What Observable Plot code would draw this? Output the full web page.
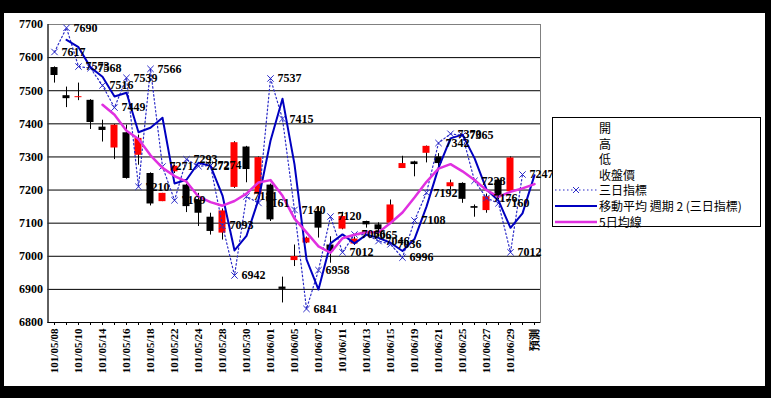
<!DOCTYPE html>
<html>
<head>
<meta charset="utf-8">
<script src="https://cdn.jsdelivr.net/npm/d3@7"></script>
<script src="https://cdn.jsdelivr.net/npm/@observablehq/plot@0.6"></script>
<style>
  html, body { margin: 0; padding: 0; background: #000; }
  #wrap { position: relative; width: 771px; height: 398px; overflow: hidden; background: #000; }
  #paper { position: absolute; left: 4px; top: 13px; width: 761px; height: 373px; background: #fff; }
  #chart { position: absolute; left: 0; top: 0; }
  #chart svg { overflow: visible; }
  g[aria-label="y-axis tick label"] text { font-weight: bold; font-size: 12px; }
  g[aria-label="x-axis tick label"] text { font-size: 11px; font-weight: bold; }
  #legend { position: absolute; left: 552px; top: 117px; width: 209px; height: 110px; border: 1px solid #000; background: #fff; box-sizing: border-box;
            font-family: "Noto Sans CJK TC", "Noto Sans", sans-serif; font-size: 12px; color: #000; }
  .row { position: absolute; left: 0; height: 16px; line-height: 16px; white-space: nowrap; }
  .row svg { position: absolute; left: 2px; top: 0; }
  .row span { position: absolute; left: 46px; top: 0; }
</style>
</head>
<body>
<div id="wrap">
  <div id="paper"></div>
  <div id="chart"></div>
  <div id="legend"></div>
</div>
<script>
// Categories (trading days, last one is the forecast slot)
const dates = ["101/05/08","101/05/09","101/05/10","101/05/11","101/05/14","101/05/15","101/05/16","101/05/17","101/05/18","101/05/21",
  "101/05/22","101/05/23","101/05/24","101/05/25","101/05/28","101/05/29","101/05/30","101/05/31","101/06/01","101/06/04",
  "101/06/05","101/06/06","101/06/07","101/06/08","101/06/11","101/06/12","101/06/13","101/06/14","101/06/15","101/06/18",
  "101/06/19","101/06/20","101/06/21","101/06/22","101/06/25","101/06/26","101/06/27","101/06/28","101/06/29","101/07/02","預測"];

// OHLC (開 / 高 / 低 / 收盤價)
const opens  = [7570,7485,7479,7471,7390,7327,7373,7305,7250,7165,7255,7215,7170,7118,7070,7208,7330,7188,7215,6907,
  6987,7040,7135,7034,7082,7037,7105,7095,7100,7265,7285,7311,7300,7210,7220,7150,7138,7230,7195];
const highs  = [7572,7511,7523,7473,7411,7398,7396,7366,7252,7190,7275,7218,7190,7130,7143,7346,7332,7300,7218,6937,
  7034,7058,7150,7059,7133,7058,7106,7101,7170,7302,7287,7333,7310,7230,7222,7155,7188,7232,7300];
const lows   = [7523,7449,7470,7383,7345,7292,7233,7275,7152,7165,7250,7132,7090,7064,7049,7205,7222,7185,7105,6859,
  6969,7038,7055,6979,7080,7033,7085,7060,7098,7265,7240,7282,7270,7200,7160,7118,7130,7170,7193];
const closes = [7546,7476,7482,7404,7380,7396,7235,7356,7158,7190,7272,7150,7130,7075,7137,7343,7262,7298,7110,6900,
  6999,7055,7085,7014,7120,7052,7095,7080,7155,7280,7277,7332,7280,7222,7172,7145,7180,7180,7297];

// 三日指標
const triIndex = [7617,7690,7573,7568,7516,7449,7539,7210,7566,7271,7169,7293,7272,7274,7093,6942,7181,7161,7537,7415,
  7140,6841,6958,7120,7012,7066,7065,7046,7036,6996,7108,7192,7342,7370,7365,7228,7176,7160,7012,7247];

// 移動平均 週期 2 (三日指標)
const movAvg2 = [null,7653.5,7631.5,7570.5,7542,7482.5,7494,7374.5,7388,7418.5,7220,7231,7282.5,7273,7183.5,7017.5,7061.5,7171,7349,7476,
  7277.5,6990.5,6899.5,7039,7066,7039,7065.5,7055.5,7041,7016,7052,7150,7267,7356,7367.5,7296.5,7202,7168,7086,7129.5,7245];

// 5日均線
const ma5 = [null,null,null,null,7457.6,7427.6,7379.4,7354.2,7305,7267,7242.2,7225.2,7180,7163.4,7152.8,7167,7189.4,7223,7230,7182.6,
  7113.8,7072.4,7029.8,7010.6,7054.6,7065.2,7073.2,7072.2,7100.4,7132.4,7177.4,7224.8,7264.8,7278.2,7256.6,7230.2,7199.8,7179.8,7194.8,7205,7218];

const yTicks = [6800,6900,7000,7100,7200,7300,7400,7500,7600,7700];

const candles = opens.map((o, i) => ({date: dates[i], open: o, high: highs[i], low: lows[i], close: closes[i]}));
const up = candles.filter(d => d.close >= d.open);
const down = candles.filter(d => d.close < d.open);
const tri = triIndex.map((v, i) => ({date: dates[i], value: v}));
const mav = movAvg2.map((v, i) => ({date: dates[i], value: v})).filter(d => d.value != null);
const m5 = ma5.map((v, i) => ({date: dates[i], value: v})).filter(d => d.value != null);

const blueDot = "#2a2ac8";
const navy = "#0000c0";
const magenta = "#e030e0";

const chart = Plot.plot({
  width: 771,
  height: 398,
  marginLeft: 47.5,
  marginRight: 231,
  marginTop: 24,
  marginBottom: 76,
  style: {background: "transparent", fontFamily: "'Liberation Serif', serif", fontSize: "12px", color: "#000"},
  x: {type: "band", domain: dates, padding: 0, label: null, tickRotate: -90, tickSize: 3, tickPadding: 3,
      tickFormat: (d) => (dates.indexOf(d) % 2 === 0 ? d : "")},
  y: {domain: [6800, 7700], ticks: yTicks, tickFormat: d => String(d), label: null, tickSize: 0, tickPadding: 5},
  marks: [
    Plot.ruleY(yTicks.filter(v => v > 6800 && v < 7700), {stroke: "#000", strokeWidth: 1}),
    Plot.frame({stroke: "#808080"}),
    Plot.ruleY([6800], {stroke: "#000"}),
    Plot.frame({anchor: "left", stroke: "#000"}),
    Plot.ruleX(candles, {x: "date", y1: "low", y2: "high", stroke: "#000", strokeWidth: 1}),
    Plot.barY(down, {x: "date", y1: "open", y2: "close", fill: "#000", insetLeft: 2.5, insetRight: 2.5}),
    Plot.barY(up, {x: "date", y1: "open", y2: "close", fill: "#ff0000", insetLeft: 2.5, insetRight: 2.5}),
    Plot.line(tri, {x: "date", y: "value", stroke: blueDot, strokeWidth: 1.2, strokeDasharray: "1.5,2.5"}),
    Plot.dot(tri, {x: "date", y: "value", symbol: "times", r: 3, stroke: blueDot, strokeWidth: 1}),
    Plot.line(mav, {x: "date", y: "value", stroke: navy, strokeWidth: 2}),
    Plot.line(m5, {x: "date", y: "value", stroke: magenta, strokeWidth: 2.5}),
    Plot.text(tri, {x: "date", y: "value", text: d => String(d.value), dx: 7, textAnchor: "start",
      fontSize: 12, fill: "#000", fontWeight: "bold"})
  ]
});
document.getElementById("chart").appendChild(chart);

// Legend
const legendItems = [
  {label: "開", kind: "none"},
  {label: "高", kind: "none"},
  {label: "低", kind: "none"},
  {label: "收盤價", kind: "none"},
  {label: "三日指標", kind: "dotted"},
  {label: "移動平均  週期 2 (三日指標)", kind: "navy"},
  {label: "5日均線", kind: "magenta"}
];
const legend = document.getElementById("legend");
legendItems.forEach((it, i) => {
  const row = document.createElement("div");
  row.className = "row";
  row.style.top = (2 + i * 15.6) + "px";
  let sym = "";
  if (it.kind === "dotted") {
    sym = `<svg width="44" height="16"><line x1="0" y1="8" x2="42" y2="8" stroke="${blueDot}" stroke-width="1.2" stroke-dasharray="1.5,2.5"/>
      <path d="M18,5L24,11M24,5L18,11" stroke="${blueDot}" stroke-width="1"/></svg>`;
  } else if (it.kind === "navy") {
    sym = `<svg width="44" height="16"><line x1="0" y1="8" x2="42" y2="8" stroke="${navy}" stroke-width="2"/></svg>`;
  } else if (it.kind === "magenta") {
    sym = `<svg width="44" height="16"><line x1="0" y1="8" x2="42" y2="8" stroke="${magenta}" stroke-width="2.5"/></svg>`;
  }
  row.innerHTML = sym + `<span>${it.label}</span>`;
  legend.appendChild(row);
});
</script>
</body>
</html>
